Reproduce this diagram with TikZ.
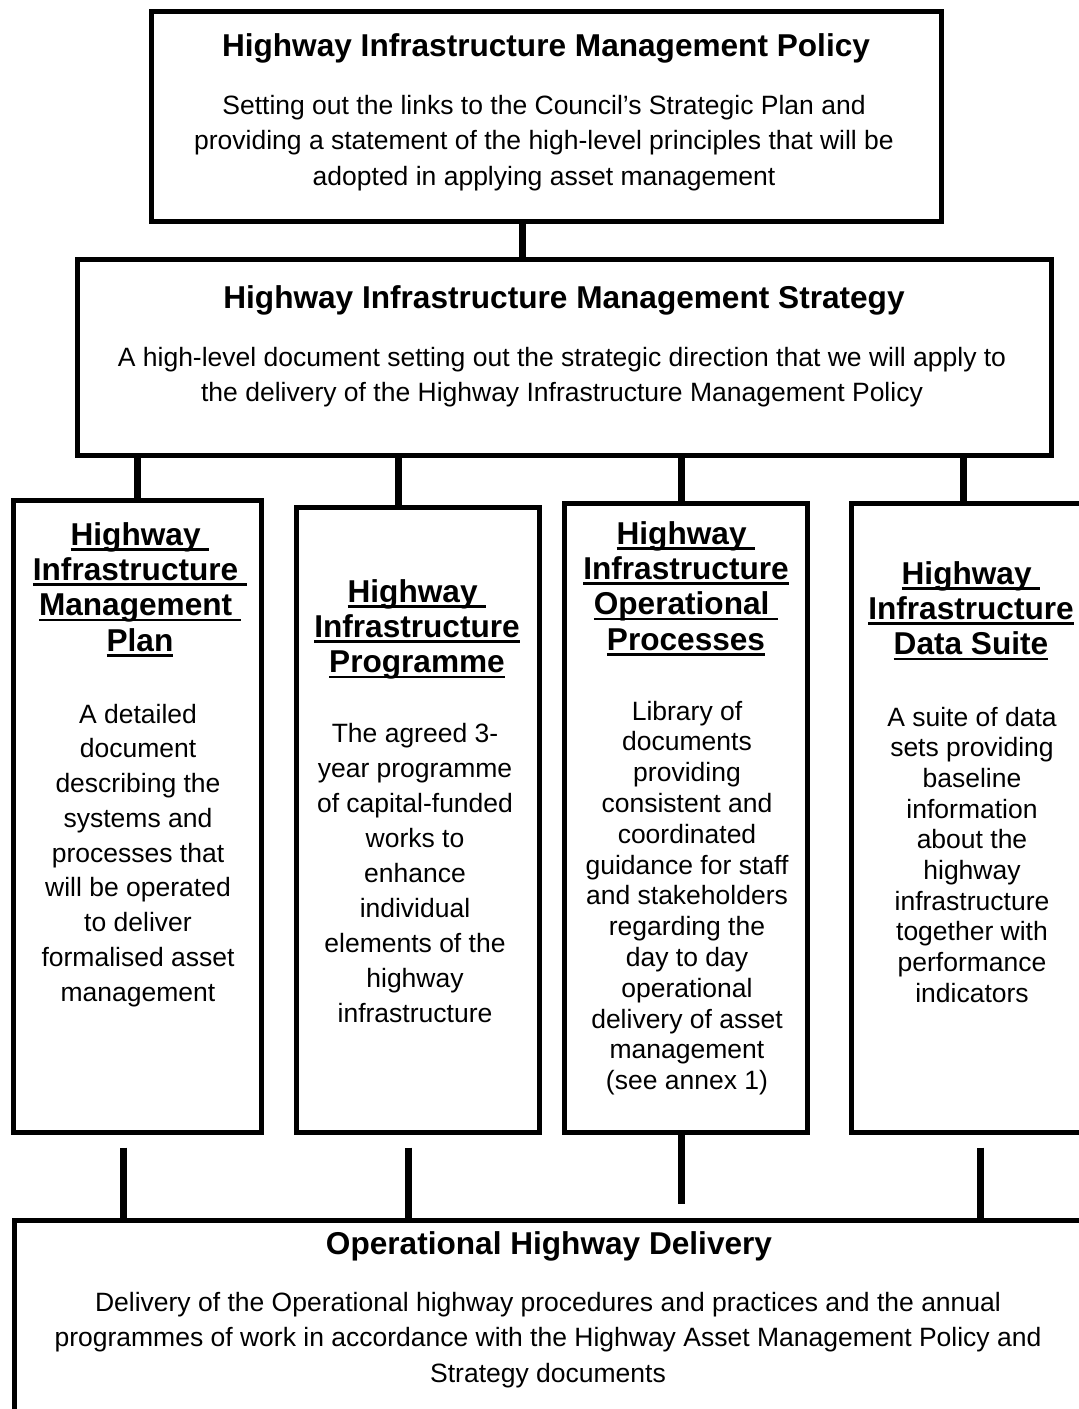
\documentclass[tikz,border=0pt]{standalone}
\usepackage{fontspec}
\setmainfont{Liberation Sans}
\usetikzlibrary{positioning}

% underlined column heading, rule runs under any trailing space
\newcommand{\ulhead}[1]{\sbox0{#1}\rlap{\rule[-5.5pt]{\wd0}{2.6pt}}\usebox0}

\begin{document}
\begin{tikzpicture}[x=1pt, y=-1pt]
  \tikzstyle{box} = [draw, rectangle, line width=4.5pt, anchor=north west, inner sep=0pt]
  \tikzstyle{link} = [line width=7pt]
  % text blocks are placed by the baseline of their last line
  \tikzstyle{head} = [align=center, anchor=base, font=\fontsize{31.6}{35.3}\selectfont\bfseries]
  \tikzstyle{body} = [align=center, anchor=base, font=\fontsize{26.5}{35}\selectfont]
  \useasboundingbox (0,0) rectangle (1079,1409);
  \clip (0,0) rectangle (1079,1409);

  % frames
  \node[box, minimum width=790pt, minimum height=210pt] (policy) at (149,9) {};
  \node[box, minimum width=974pt, minimum height=196pt] (strategy) at (75,257) {};
  \node[box, minimum width=248pt, minimum height=632pt] (plan) at (11,498) {};
  \node[box, minimum width=243pt, minimum height=625pt] (prog) at (294,505) {};
  \node[box, minimum width=243pt, minimum height=629pt] (ops) at (562,501) {};
  \node[box, minimum width=251pt, minimum height=629pt] (data) at (849,501) {};
  \node[box, minimum width=1090pt, minimum height=300pt] (delivery) at (12,1218) {};

  % top two levels
  \node[head] (policy-head) at (546,56) {Highway Infrastructure Management Policy};
  \node[body, font=\fontsize{26.5}{35.5}\selectfont] (policy-text) at (544,185)
    {Setting out the links to the Council’s Strategic Plan and\\
     providing a statement of the high-level principles that will be\\
     adopted in applying asset management};
  \node[head] (strategy-head) at (564,308) {Highway Infrastructure Management Strategy};
  \node[body] (strategy-text) at (562,401)
    {A high-level document setting out the strategic direction that we will apply to\\
     the delivery of the Highway Infrastructure Management Policy};

  % the four columns
  \node[head] (plan-head) at (140,651)
    {\ulhead{Highway\ }\\\ulhead{Infrastructure\ }\\\ulhead{Management\ }\\\ulhead{Plan}};
  \node[body, font=\fontsize{26.5}{34.75}\selectfont] (plan-text) at (138,1001)
    {A detailed\\document\\describing the\\systems and\\processes that\\will be operated\\
     to deliver\\formalised asset\\management};

  \node[head] (prog-head) at (417,672.6)
    {\ulhead{Highway\ }\\\ulhead{Infrastructure}\\\ulhead{Programme}};
  \node[body] (prog-text) at (415,1022)
    {The agreed 3-\\year programme\\of capital-funded\\works to\\enhance\\individual\\
     elements of the\\highway\\infrastructure};

  \node[head] (ops-head) at (686,650)
    {\ulhead{Highway\ }\\\ulhead{Infrastructure}\\\ulhead{Operational\ }\\\ulhead{Processes}};
  \node[body, font=\fontsize{26.5}{30.8}\selectfont] (ops-text) at (687,1089.6)
    {Library of\\documents\\providing\\consistent and\\coordinated\\guidance for staff\\
     and stakeholders\\regarding the\\day to day\\operational\\delivery of asset\\
     management\\(see annex 1)};

  \node[head] (data-head) at (971,654.6)
    {\ulhead{Highway\ }\\\ulhead{Infrastructure}\\\ulhead{Data Suite}};
  \node[body, font=\fontsize{26.5}{30.7}\selectfont] (data-text) at (972,1002.3)
    {A suite of data\\sets providing\\baseline\\information\\about the\\highway\\
     infrastructure\\together with\\performance\\indicators};

  % bottom level
  \node[head] (delivery-head) at (549,1254) {Operational Highway Delivery};
  \node[body, font=\fontsize{26.5}{35.5}\selectfont] (delivery-text) at (548,1382)
    {Delivery of the Operational highway procedures and practices and the annual\\
     programmes of work in accordance with the Highway Asset Management Policy and\\
     Strategy documents};

  % connectors
  \coordinate (up0) at ([xshift=-24pt]policy.south);
  \coordinate (up2) at ([xshift=-19.5pt]prog.north);
  \coordinate (up3) at ([xshift=-4.5pt]ops.north);
  \coordinate (up4) at ([xshift=-13.5pt]data.north);
  \draw[link] (up0) -- (up0 |- strategy.north);
  \draw[link] (strategy.south -| plan.north) -- (plan.north);
  \draw[link] (up2 |- strategy.south) -- (up2);
  \draw[link] (up3 |- strategy.south) -- (up3);
  \draw[link] (up4 |- strategy.south) -- (up4);

  \coordinate (dn1) at ([xshift=-14pt, yshift=-13pt]plan.south);
  \coordinate (dn2) at ([xshift=-9.5pt, yshift=-13pt]prog.south);
  \coordinate (dn3) at ([xshift=-4.5pt, yshift=14pt]ops.south |- delivery.north);
  \coordinate (dn4) at ([xshift=3.5pt, yshift=-13pt]data.south);
  \draw[link] (dn1) -- (dn1 |- delivery.north);
  \draw[link] (dn2) -- (dn2 |- delivery.north);
  \draw[link] (dn3 |- ops.south) -- (dn3);
  \draw[link] (dn4) -- (dn4 |- delivery.north);
\end{tikzpicture}
\end{document}
